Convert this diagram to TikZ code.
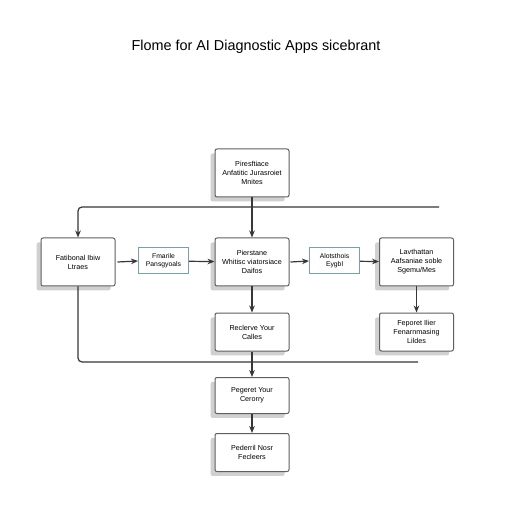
\documentclass[tikz,border=0pt]{standalone}
\usepackage{fontspec}
\setmainfont{Liberation Sans}
\usetikzlibrary{positioning,arrows.meta,shadows}
\definecolor{edgegray}{RGB}{95,95,95}
\definecolor{linegray}{RGB}{55,55,55}
\definecolor{tealgray}{RGB}{120,160,165}
\tikzset{
  box/.style={draw=edgegray,fill=white,rounded corners=1pt,line width=0.5pt,align=center,
    minimum width=37pt,minimum height=24pt,inner sep=1pt,font=\fontsize{3.6}{4.5}\selectfont,
    drop shadow={shadow xshift=-2.2pt,shadow yshift=-2.2pt,fill=black!30,opacity=0.6}},
  sbox/.style={draw=tealgray,fill=white,line width=0.5pt,align=center,
    minimum width=25pt,minimum height=13pt,inner sep=1pt,font=\fontsize{3.4}{4.2}\selectfont},
  flow/.style={draw=linegray,line width=0.6pt},
  arr/.style={flow,-{Stealth[length=3.5pt,width=2.8pt]}},
  every picture/.style={x=0.5pt,y=-0.5pt}
}
\begin{document}
\begin{tikzpicture}
  \useasboundingbox[fill=white] (0,0) rectangle (512,512);
  \node[font=\fontsize{7.2}{8}\selectfont] (title) at (256,47) {Flome for AI Diagnostic Apps sicebrant};
  % first row
  \node[box,minimum height=24pt] (top) at (252,173) {Piresftiace\\Anfatitic Jurasroiet\\Mnites};
  \node[box] (lft) at (78,262) {Fatibonal Ibiw\\Ltraes};
  \node[sbox] (fmr) at (163.5,261) {Fmarile\\Pansgyoals};
  \node[box] (main) at (252,262) {Pierstane\\Whitisc viatorsiace\\Daifos};
  \node[sbox] (alo) at (334.5,261) {Alotsthois\\Eygbl};
  \node[box] (rgt) at (416.5,262) {Lavthattan\\Aafsaniae soble\\Sgemu/Mes};
  % lower rows
  \node[box,minimum height=19pt] (cal) at (252,332) {Reclerve Your\\Calles};
  \node[box,minimum height=19pt] (rep) at (416.5,332) {Feporet Ilier\\Fenarnmasing\\Lildes};
  \node[box,minimum height=18pt] (cur) at (252,395.5) {Pegeret Your\\Cerorry};
  \node[box,minimum height=19pt] (fac) at (252,452.5) {Pederril Nosr\\Fecleers};
  % rails
  \coordinate (tl) at (78,207); \coordinate (tr) at (439,207);
  \coordinate (bl) at (78,362); \coordinate (br) at (418,362);
  \draw[arr,rounded corners=2pt] (tr) -- (tl) -- (lft.north);
  \draw[arr] (top.south) -- (main.north);
  \draw[arr] (lft.east) ++(2,0) -- (fmr.west);
  \draw[arr] (fmr) -- (main);
  \draw[arr] (main.east) ++(1,0) -- (alo.west);
  \draw[arr] (alo) -- (rgt);
  \draw[arr] (main) -- (cal);
  \draw[arr] (rgt) -- (rep);
  \draw[flow,rounded corners=2pt] (lft.south) -- (bl) -- (br);
  \draw[arr] (cal) -- (cur);
  \draw[arr] (cur) -- (fac);
\end{tikzpicture}
\end{document}
